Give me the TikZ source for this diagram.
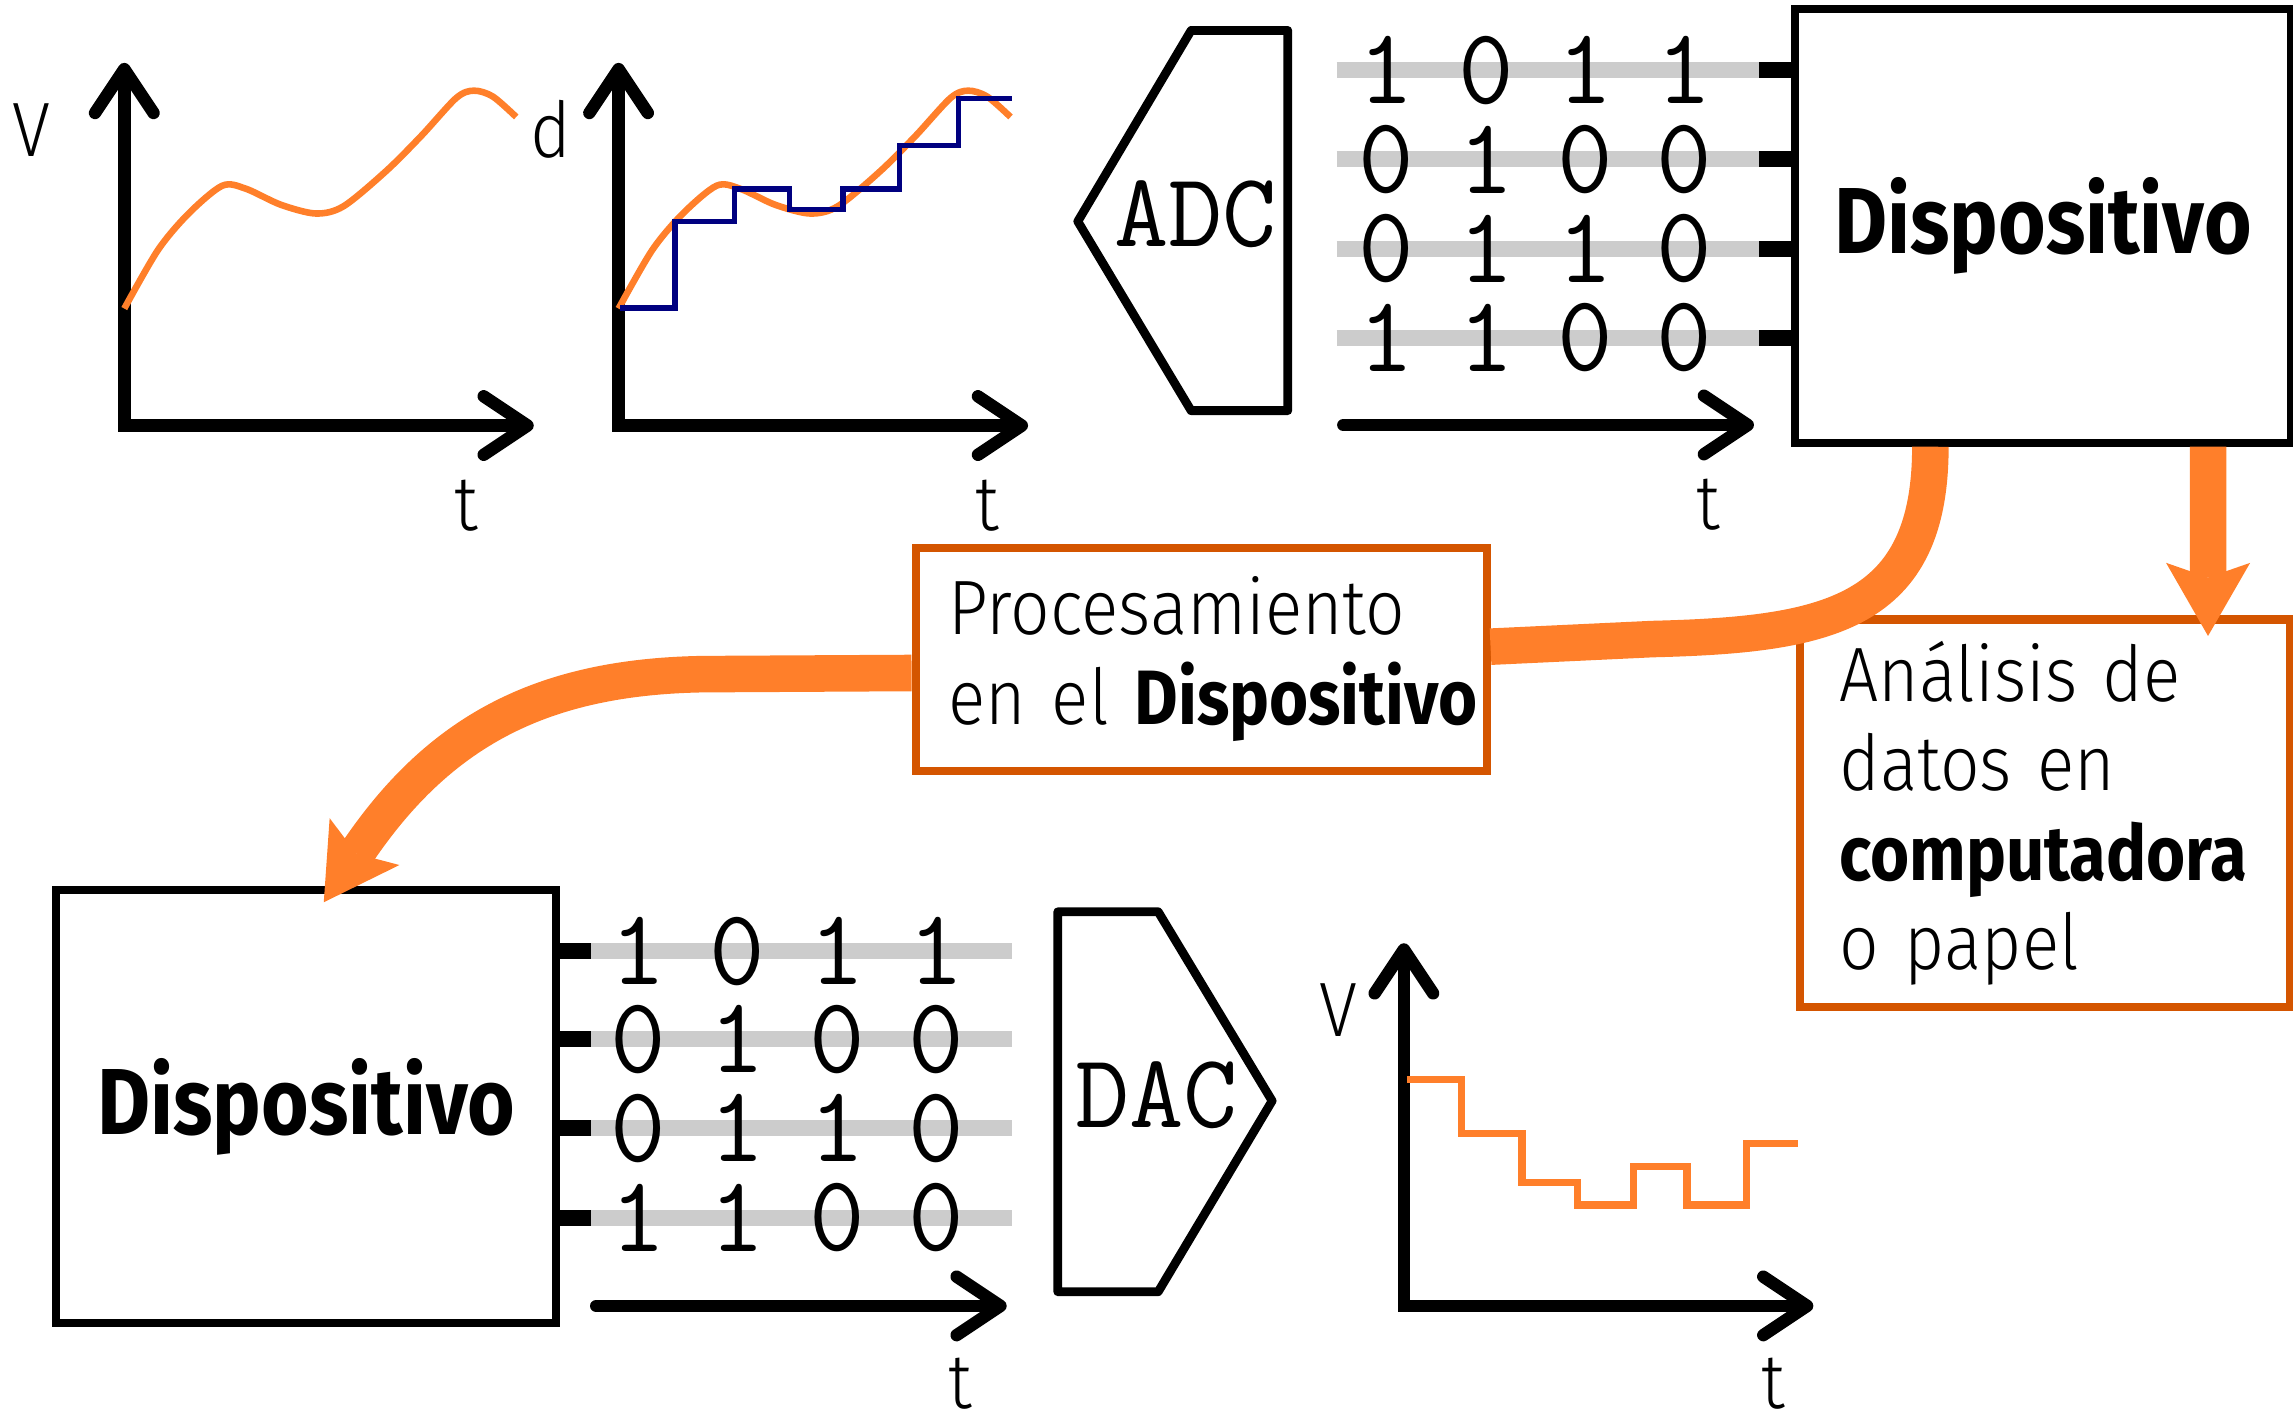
\documentclass[tikz,border=0pt]{standalone}
\usepackage{fontspec}
\setmainfont{Fira Sans Light}[FakeStretch=0.9,WordSpace=0.4,BoldFont={Fira Sans Bold},BoldFeatures={FakeStretch=0.87}]
\usetikzlibrary{arrows.meta}
\definecolor{sigorange}{HTML}{FF7F2A}
\definecolor{noteedge}{HTML}{D45500}
\definecolor{stepblue}{HTML}{000080}
\definecolor{wiregray}{HTML}{CCCCCC}
\hfuzz=20pt
\begin{document}
\begin{tikzpicture}[x=0.02cm,y=-0.02cm,
  barb/.tip={Straight Barb[round,length=0.6cm,width=0.8cm]},
  flowtip/.tip={Stealth[length=1cm,width=1.15cm,inset=0.2cm,line width=0pt]},
  axes/.style={line width=0.17cm,barb-barb},
  taxis/.style={line width=0.17cm,line cap=round,-barb},
  sig/.style={sigorange,line width=0.09cm},
  quant/.style={stepblue,line width=0.075cm},
  wire/.style={wiregray,line width=0.22cm},
  stub/.style={line width=0.22cm},
  bit/.style={font=\ttfamily\fontsize{42}{42}\selectfont,inner sep=0pt},
  convtxt/.style={font=\ttfamily\fontsize{41}{41}\selectfont,inner sep=0pt},
  conv/.style={line width=0.12cm,line join=round},
  lbl/.style={font=\fontsize{30}{34.7}\selectfont,inner sep=0pt},
  devbox/.style={draw,line width=0.11cm,fill=white,font=\bfseries\fontsize{36.5}{40}\selectfont},
  notebox/.style={draw=noteedge,line width=0.11cm,fill=white,align=left,inner ysep=0pt,font=\fontsize{30}{34.7}\selectfont},
  flow/.style={sigorange,line width=0.5cm}]
\useasboundingbox (0,0) rectangle (1568,966);

\foreach \gx in {0,338} {
  \draw[axes] (\gx+85,43) -- (\gx+85,291) -- (\gx+365,291);
  \draw[sig,shift={(\gx,0)}] plot[smooth,tension=0.5] coordinates {(85,211) (108,171) (129,146) (152,127) (168,129) (192,140) (216,146) (235,141) (264,117) (288,93) (312,67) (324,62) (337,66) (353,80)};
}
\draw[quant] (424,210.5) -| (461.5,151.4) -| (502.2,129.4) -| (539.7,143.3) -| (576.6,129.4) -| (615,99.6) -| (655.3,67.2) -- (692.2,67.2);
\node[lbl] (lv1) at (21.6,89) {V};
\node[lbl] (ld) at (376.6,88.5) {d};
\node[lbl] (lt1) at (319,346) {t};
\node[lbl] (lt2) at (675,346) {t};

\draw[conv] (737,151.4) -- (814.5,20.8) -- (880.6,20.8) -- (880.6,280.8) -- (814.5,280.8) -- cycle;
\node[convtxt] (adc) at (817.5,146.8) {ADC};

\foreach \row/\bits [count=\i] in {48/{1,0,1,1},109/{0,1,0,0},170/{0,1,1,0},231/{1,1,0,0}} {
  \draw[wire] (914,\row) -- (1204,\row);
  \draw[stub] (1203,\row) -- (1227,\row);
  \foreach \b [count=\j] in \bits
    \node[bit] (hi\i\j) at (880+68*\j,\row) {\b};
}
\draw[taxis] (918.6,290.6) -- (1199.4,290.6);
\node[lbl] (lt3) at (1168,345) {t};

\node[devbox,minimum width=6.78cm,minimum height=5.93cm] (dev1) at (1397,154.5) {Dispositivo};
\node[devbox,minimum width=6.84cm,minimum height=5.92cm] (dev2) at (209.4,756.7) {Dispositivo};
\node[notebox,text width=6.91cm,inner xsep=0.45cm,minimum height=3.05cm] (proc) at (821.3,450.7) {Procesamiento\\\mbox{en el \textbf{Dispositivo}}};
\node[notebox,text width=5.62cm,inner xsep=0.54cm,minimum height=5.30cm] (ana) at (1398.4,556.1) {Análisis de\\datos en\\\mbox{\textbf{computadora}}\\o papel};

\draw[flow] ([xshift=-1.54cm]dev1.south) .. controls (1320,420) and (1250,434) .. (1130,437) -- ([yshift=0.17cm]proc.east);
\draw[flow,-flowtip] ([yshift=-0.19cm]proc.west) -- (480,461) .. controls (370,463) and (300,500) .. ([xshift=0.24cm,yshift=-0.22cm]dev2.north);
\draw[flow,-flowtip] ([xshift=2.26cm]dev1.south) -- ([xshift=2.23cm,yshift=-0.28cm]ana.north);

\foreach \row/\bits [count=\i] in {650.4/{1,0,1,1},710.7/{0,1,0,0},771.5/{0,1,1,0},832.6/{1,1,0,0}} {
  \draw[wire] (403,\row) -- (692,\row);
  \draw[stub] (380,\row) -- (404,\row);
  \foreach \b [count=\j] in \bits
    \node[bit] (lo\i\j) at (368.5+68*\j,\row) {\b};
}
\draw[taxis] (407.7,893) -- (688.4,893);
\node[lbl] (lt4) at (657,946) {t};

\draw[conv] (723.3,623.5) -- (792,623.5) -- (869.9,752.8) -- (792,883.3) -- (723.3,883.3) -- cycle;
\node[convtxt] (dac) at (791,749) {DAC};

\draw[axes] (960,645) -- (960,893) -- (1240,893);
\draw[sig,line width=0.1cm] (962,738) -| (999.6,775) -| (1040.8,808.5) -| (1078.5,824) -| (1116.8,797.6) -| (1153.5,824) -| (1194.1,782) -- (1229.6,782);
\node[lbl] (lv2) at (915,690.5) {V};
\node[lbl] (lt5) at (1212.8,946) {t};
\end{tikzpicture}
\end{document}
